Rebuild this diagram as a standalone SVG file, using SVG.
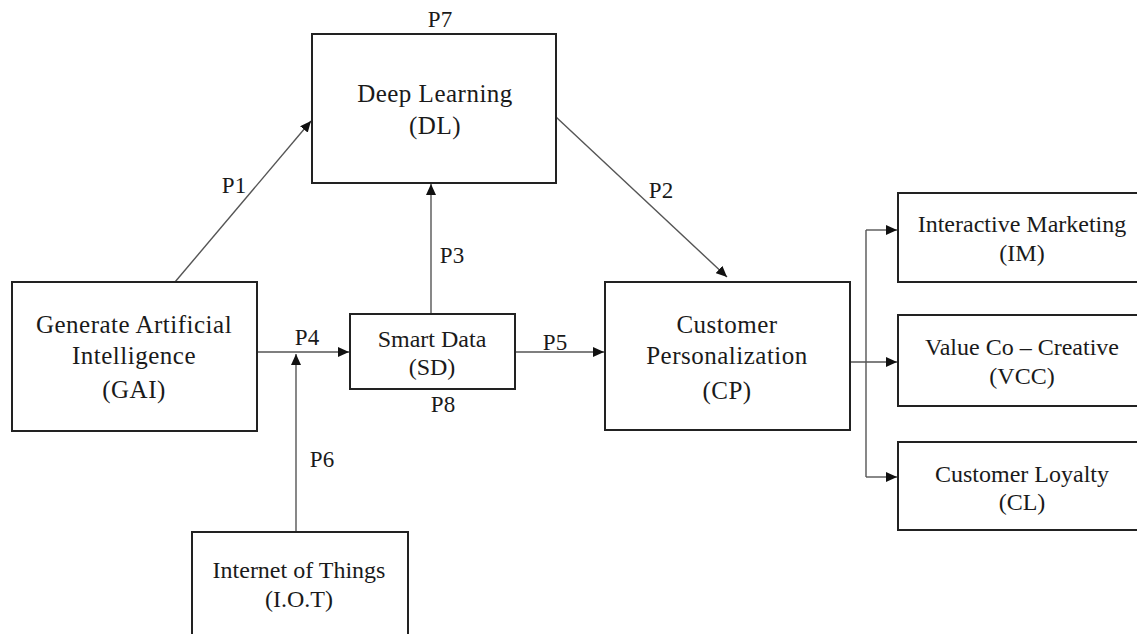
<svg xmlns="http://www.w3.org/2000/svg" width="1137" height="634" viewBox="0 0 1137 634">
<style>
.box{fill:#fff;stroke:#222;stroke-width:2}
.t{font-family:"Liberation Serif","Times New Roman",serif;font-size:24px;fill:#1a1a1a;text-anchor:middle}
.w{font-size:25px;letter-spacing:0.5px}
.lbl{font-family:"Liberation Serif","Times New Roman",serif;font-size:23px;fill:#1a1a1a;text-anchor:middle}
.c{fill:none;stroke:#555;stroke-width:1.4}
</style>
<defs>
<marker id="ah" markerUnits="userSpaceOnUse" markerWidth="11" markerHeight="10" refX="11" refY="5" orient="auto">
<path d="M0,0 L11,5 L0,10 z" fill="#111"/>
</marker>
</defs>
<rect width="1137" height="634" fill="#fff"/>
<g id="connectors">
<line class="c" x1="175" y1="282" x2="311" y2="121" marker-end="url(#ah)"/>
<line class="c" x1="556" y1="117" x2="727" y2="277" marker-end="url(#ah)"/>
<line class="c" x1="431" y1="314" x2="431" y2="184" marker-end="url(#ah)"/>
<line class="c" x1="257" y1="352" x2="349" y2="352" marker-end="url(#ah)"/>
<line class="c" x1="515" y1="352" x2="604" y2="352" marker-end="url(#ah)"/>
<line class="c" x1="296" y1="532" x2="296" y2="354" marker-end="url(#ah)"/>
<line class="c" x1="850" y1="362" x2="897" y2="362" marker-end="url(#ah)"/>
<line class="c" x1="866" y1="230" x2="866" y2="477"/>
<line class="c" x1="866" y1="230" x2="897" y2="230" marker-end="url(#ah)"/>
<line class="c" x1="866" y1="477" x2="897" y2="477" marker-end="url(#ah)"/>
<text class="lbl" x="234" y="193">P1</text>
<text class="lbl" x="661" y="198">P2</text>
<text class="lbl" x="452" y="263">P3</text>
<text class="lbl" x="307" y="345">P4</text>
<text class="lbl" x="555" y="350">P5</text>
<text class="lbl" x="322" y="467">P6</text>
<text class="lbl" x="440" y="27">P7</text>
<text class="lbl" x="443" y="412">P8</text>
</g>
<g id="DL">
<rect class="box" x="312" y="34" width="244" height="149"/>
<text class="t w" x="435" y="102">Deep Learning</text>
<text class="t w" x="435" y="134">(DL)</text>
</g>
<g id="GAI">
<rect class="box" x="12" y="282" width="245" height="149"/>
<text class="t w" x="134" y="333">Generate Artificial</text>
<text class="t w" x="134" y="364">Intelligence</text>
<text class="t w" x="134" y="398">(GAI)</text>
</g>
<g id="SD">
<rect class="box" x="350" y="314" width="165" height="75"/>
<text class="t" x="432" y="347">Smart Data</text>
<text class="t" x="432" y="375">(SD)</text>
</g>
<g id="CP">
<rect class="box" x="605" y="282" width="245" height="148"/>
<text class="t w" x="727" y="333">Customer</text>
<text class="t w" x="727" y="364">Personalization</text>
<text class="t w" x="727" y="399">(CP)</text>
</g>
<g id="IM">
<rect class="box" x="898" y="193" width="250" height="89"/>
<text class="t" x="1022" y="232">Interactive Marketing</text>
<text class="t" x="1022" y="261">(IM)</text>
</g>
<g id="VCC">
<rect class="box" x="898" y="315" width="250" height="91"/>
<text class="t" x="1022" y="355">Value Co – Creative</text>
<text class="t" x="1022" y="384">(VCC)</text>
</g>
<g id="CL">
<rect class="box" x="898" y="442" width="250" height="88"/>
<text class="t" x="1022" y="482">Customer Loyalty</text>
<text class="t" x="1022" y="510">(CL)</text>
</g>
<g id="IOT">
<rect class="box" x="192" y="532" width="216" height="120"/>
<text class="t" x="299" y="578">Internet of Things</text>
<text class="t" x="299" y="607">(I.O.T)</text>
</g>
</svg>
